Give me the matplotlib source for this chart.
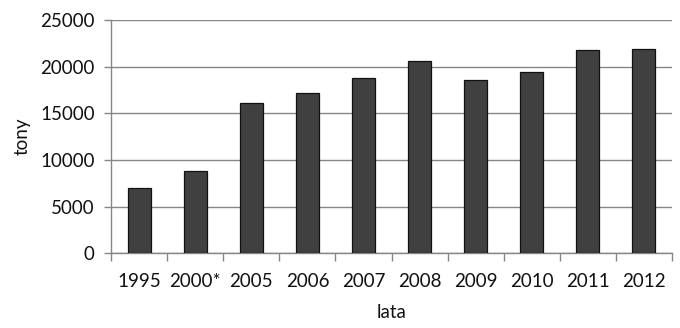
import matplotlib.pyplot as plt
import numpy as np

# values
years = ["1995", "2000*", "2005", "2006", "2007", "2008", "2009", "2010", "2011", "2012"]
tonnes = [6970, 8820, 16100, 17180, 18780, 20600, 18540, 19430, 21750, 21860]
yticks = [0, 5000, 10000, 15000, 20000, 25000]

plt.rcParams["font.family"] = ["Lato", "DejaVu Sans"]

fig = plt.figure(figsize=(6.8, 3.28), dpi=100)
ax = fig.add_axes([0.1637, 0.2277, 0.8241, 0.7113])

x = np.arange(len(years))
ax.bar(x, tonnes, width=0.42, color="#404040", edgecolor="#111111", linewidth=0.9, zorder=3)

ax.set_xlim(-0.5, len(years) - 0.5)
ax.set_ylim(0, 25000)
ax.set_yticks(yticks)
ax.yaxis.grid(True, color="#868686", linewidth=1.0, zorder=0)

# category ticks sit between the bars, labels centred under them
ax.set_xticks(np.arange(len(years) + 1) - 0.5)
ax.set_xticklabels([])
ax.set_xticks(x, minor=True)
ax.set_xticklabels(years, minor=True)
ax.tick_params(axis="x", which="minor", length=0, pad=14, labelsize=13.5, labelcolor="#111111")
ax.tick_params(axis="x", which="major", length=6, width=1, color="#868686")
ax.tick_params(axis="y", length=5, width=1, color="#868686", pad=7, labelsize=13.5, labelcolor="#111111")

for side in ["top", "right"]:
    ax.spines[side].set_visible(False)
for side in ["left", "bottom"]:
    ax.spines[side].set_color("#868686")
    ax.spines[side].set_linewidth(1)

ax.set_ylabel("tony", fontsize=13.5, color="#111111", labelpad=7)
ax.set_xlabel("lata", fontsize=13.5, color="#111111", labelpad=10)

fig.savefig("out.png", dpi=100)
